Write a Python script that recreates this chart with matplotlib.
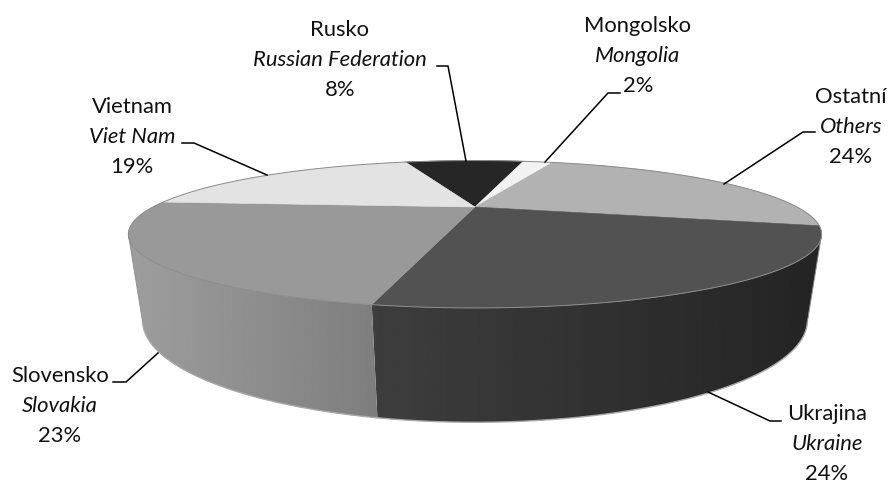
import numpy as np
import matplotlib
matplotlib.use('Agg')
from matplotlib import pyplot as plt
from matplotlib.patches import Polygon

names_cz = ['Rusko', 'Mongolsko', 'Ostatní', 'Ukrajina', 'Slovensko', 'Vietnam']
names_en = ['Russian Federation', 'Mongolia', 'Others', 'Ukraine', 'Slovakia', 'Viet Nam']
shares = [8, 2, 24, 24, 23, 19]
top_colors = ['#262626', '#f2f2f2', '#b2b2b2', '#525252', '#999999', '#e3e3e3']

# label centres and leader lines, in pixels of the picture
label_pos = [(340, 30), (638, 26), (851, 97), (827, 414), (60, 376), (132, 107)]
leaders = [
    [(437, 66), (448, 66), (466, 161)],
    [(620, 93), (608, 93), (545, 162)],
    [(815, 132), (803, 132), (724, 184)],
    [(781, 421), (770, 421), (708, 392)],
    [(113, 382), (126, 382), (158, 353)],
    [(182, 143), (194, 143), (267, 175)],
]

start_angle = -17
cx, cy = 475, 207
b, a, k = 322, 63.6, -0.37    # top face perspective
drop, m = 80, 0.037           # pie thickness


def project(theta, z=0.0):
    t = np.radians(theta)
    u = np.sin(t)
    v = -np.cos(t)
    w = 1 + k * v + m * z
    return cx + b * u / w, cy + (a * v + drop * z) / w


def wall(ax, t0, t1, c_left, c_right, outer):
    # t0 is the outer end, cut it back to where the wall starts to face the viewer
    th = np.linspace(t0, t1, 300)
    xt, yt = project(th)
    th = th[outer(xt):]
    xt, yt = project(th)
    xb, yb = project(th, 1)
    xs = np.r_[xt, xb[::-1]]
    ys = np.r_[yt, yb[::-1]]
    grad = np.linspace(c_left, c_right, 256).reshape(1, -1)
    im = ax.imshow(grad, cmap='gray', vmin=0, vmax=255, aspect='auto',
                   extent=(xs.min(), xs.max(), ys.max(), ys.min()), zorder=1)
    im.set_clip_path(Polygon(np.c_[xs, ys], closed=True, transform=ax.transData))
    ax.plot(xb, yb, color='#a8a8a8', lw=1.0, zorder=1.5)
    ax.plot(np.r_[xt[0], xb[0]], np.r_[yt[0], yb[0]], color='#909090', lw=0.7, zorder=1.5)


plt.rcParams['font.family'] = ['Lato', 'DejaVu Sans']
fig = plt.figure(figsize=(8.9, 4.83), dpi=100)
ax = fig.add_axes([0, 0, 1, 1])

edges = start_angle + np.cumsum([0] + [s * 3.6 for s in shares])

# side walls
wall(ax, edges[3], edges[4], 62, 36, np.argmax)
wall(ax, edges[5], edges[4], 158, 126, np.argmin)

# top face
for i in range(len(shares)):
    th = np.linspace(edges[i], edges[i + 1], 120)
    x, y = project(th)
    ax.fill(np.r_[cx, x], np.r_[cy, y], color=top_colors[i], lw=0.4, zorder=2)
    ax.plot(x, y, color='#8c8c8c', lw=0.7, zorder=2.1)

for i in range(len(shares)):
    lx, ly = label_pos[i]
    ax.text(lx, ly, names_cz[i], ha='center', va='center', fontsize=15.8, color='#111111', zorder=4)
    ax.text(lx, ly + 30, names_en[i], ha='center', va='center', fontsize=15.8, style='italic', color='#111111', zorder=4)
    ax.text(lx, ly + 60, '%d%%' % shares[i], ha='center', va='center', fontsize=15.8, color='#111111', zorder=4)
    pts = np.array(leaders[i])
    ax.plot(pts[:, 0], pts[:, 1], color='black', lw=1.1, zorder=3)

ax.set_xlim(0, 890)
ax.set_ylim(483, 0)
ax.axis('off')
fig.savefig('out.png', dpi=100)
